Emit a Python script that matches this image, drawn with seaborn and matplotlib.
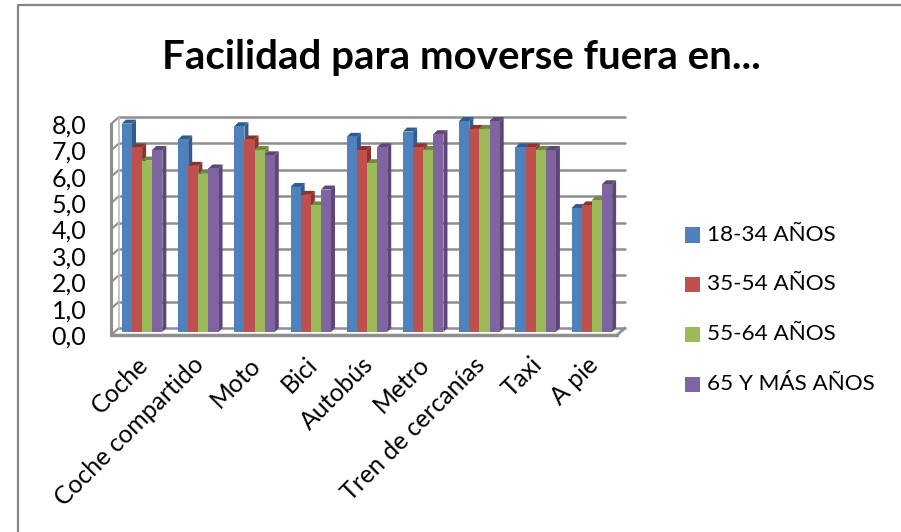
import matplotlib
matplotlib.use("Agg")
import matplotlib.pyplot as plt
import matplotlib.transforms as mtrans
from matplotlib.patches import Polygon, Rectangle
import pandas as pd
import seaborn as sns

categories = ["Coche", "Coche compartido", "Moto", "Bici", "Autobús", "Metro",
              "Tren de cercanías", "Taxi", "A pie"]
series_names = ["18-34 AÑOS", "35-54 AÑOS", "55-64 AÑOS", "65 Y MÁS AÑOS"]
v18 = [7.9, 7.3, 7.8, 5.5, 7.4, 7.6, 8.0, 7.0, 4.7]
v35 = [7.0, 6.3, 7.3, 5.2, 6.9, 7.0, 7.7, 7.0, 4.8]
v55 = [6.5, 6.0, 6.9, 4.8, 6.4, 6.9, 7.7, 6.9, 5.0]
v65 = [6.9, 6.2, 6.7, 5.4, 7.0, 7.5, 8.0, 6.9, 5.6]
colors = ["#4F81BD", "#C0504D", "#9BBB59", "#8064A2"]
dark = ["#2F5C8F", "#8C3330", "#71893F", "#5C4776"]
y_ticks = [0, 1, 2, 3, 4, 5, 6, 7, 8]

df = pd.DataFrame({"cat": categories * 4,
                   "serie": [s for s in series_names for _ in categories],
                   "valor": v18 + v35 + v55 + v65})

sns.set_theme(style="white")
plt.rcParams['font.family'] = ['Lato', 'DejaVu Sans']

W, H = 901, 532
fig = plt.figure(figsize=(W / 100, H / 100), dpi=100)
# axes = plane of the bar fronts
ax = fig.add_axes([114 / W, (H - 332) / H, 506 / W, 211 / H])
sns.barplot(data=df, x="cat", y="valor", hue="serie", palette=colors, width=0.72,
            gap=0, saturation=1, legend=False, linewidth=0, ax=ax, zorder=3)
ax.set_ylim(0, 8)
ax.set_xlim(-0.5, 8.5)
for s in ax.spines.values():
    s.set_visible(False)
ax.patch.set_alpha(0)
ax.set_xlabel("")
ax.set_ylabel("")
ax.set_xticks(range(len(categories)))
ax.set_xticklabels(categories, rotation=45, ha="right", rotation_mode="anchor",
                   fontsize=17.8, color="black")
ax.set_yticks(y_ticks)
ax.set_yticklabels([f"{t:.1f}".replace(".", ",") for t in y_ticks], fontsize=18, color="black")
ax.tick_params(axis="y", length=0, pad=20)
ax.tick_params(axis="x", length=0, pad=15)
shift = mtrans.ScaledTranslation(-6 / 100, 0, fig.dpi_scale_trans)
for lab in ax.get_xticklabels():
    lab.set_transform(lab.get_transform() + shift)
shift_y = mtrans.ScaledTranslation(0, -3 / 100, fig.dpi_scale_trans)
for lab in ax.get_yticklabels():
    lab.set_transform(lab.get_transform() + shift_y)

# fake 3D: wall and floor, in pixels away from the bar plane
grid_col = "#8E8E8E"
back = mtrans.offset_copy(ax.get_yaxis_transform(), fig, x=5, y=4, units="dots")
front = mtrans.offset_copy(ax.get_yaxis_transform(), fig, x=-3, y=-3, units="dots")
for t in y_ticks:
    ax.plot([0, 1], [t, t], transform=back, color=grid_col, lw=1.8, zorder=1, clip_on=False)
    x0, y0 = front.transform((0, t))
    x1, y1 = back.transform((0, t))
    ax.add_line(plt.Line2D([x0, x1], [y0, y1], transform=None, color=grid_col, lw=1.5, zorder=1,
                           clip_on=False))
x0, y0 = front.transform((1, 0))
x1, y1 = back.transform((1, 0))
ax.add_line(plt.Line2D([x0, x1], [y0, y1], transform=None, color=grid_col, lw=2, zorder=2,
                       clip_on=False))
ax.plot([0, 0], [0, 8], transform=front, color=grid_col, lw=2.2, zorder=2, clip_on=False)
ax.plot([0, 0], [0, 8], transform=back, color="#BDBDBD", lw=1.2, zorder=1, clip_on=False)
ax.plot([0, 1], [0, 0], transform=front, color=grid_col, lw=2.5, zorder=2, clip_on=False)

# side and top faces taken from each bar
depth = 4
rgb = [matplotlib.colors.to_rgb(c) for c in colors]
for bar in list(ax.patches):
    col = matplotlib.colors.to_rgb(bar.get_facecolor())
    k = min(range(4), key=lambda i: sum(abs(a - b) for a, b in zip(rgb[i], col)))
    (xa, ya), (xb, yb) = ax.transData.transform(
        [(bar.get_x(), 0), (bar.get_x() + bar.get_width(), bar.get_height())])
    side = [(xb, ya), (xb + depth, ya + depth), (xb + depth, yb + depth), (xb, yb)]
    top = [(xa, yb), (xa + depth, yb + depth), (xb + depth, yb + depth), (xb, yb)]
    for pts in (side, top):
        p = Polygon(pts, closed=True, transform=None, fc=dark[k], ec="none",
                    zorder=2.5 + k * 0.1)
        ax.add_patch(p)
        p.set_clip_on(False)
    bar.set_zorder(2.55 + k * 0.1)
    bar.set_clip_on(False)

fig.text(461 / W, 1 - 57 / H, "Facilidad para moverse fuera en...", fontsize=29,
         fontweight="bold", color="black", ha="center", va="center")

# legend
legend_y = [235, 284, 334, 384]
for name, col, ly in zip(series_names, colors, legend_y):
    fig.patches.append(Rectangle((685 / W, 1 - (ly + 7.5) / H), 15 / W, 15 / H,
                                 transform=fig.transFigure, fc=col, ec="none"))
    fig.text(707 / W, 1 - ly / H, name, fontsize=16.2, color="black", va="center", ha="left")

# chart border runs off the right and bottom of the picture
fig.add_artist(plt.Line2D([18 / W, 18 / W, 1], [0, 1 - 5 / H, 1 - 5 / H],
                          transform=fig.transFigure, color="#868686", lw=1.6))

fig.savefig("out.png", dpi=100)
